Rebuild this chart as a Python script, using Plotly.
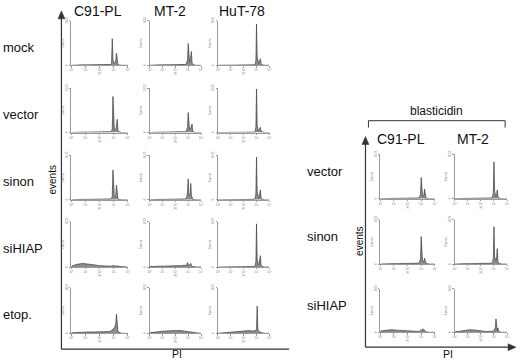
import plotly.graph_objects as go

W, H = 520, 362

# ---------------- data ----------------
# PI channel positions (decades, 10^0 .. 10^4)
BINS = [0.0, 0.4, 0.8, 1.2, 1.6, 2.0, 2.4, 2.7, 2.8, 2.85, 2.9, 2.95,
        3.0, 3.05, 3.1, 3.15, 3.2, 3.25, 3.3, 3.35, 3.45, 3.6, 4.0]
X_TICKS = ["10⁰", "10¹", "10²", "10³", "10⁴"]

LEFT_CELLS = ["C91-PL", "MT-2", "HuT-78"]
LEFT_TREATMENTS = ["mock", "vector", "sinon", "siHIAP", "etop."]
RIGHT_CELLS = ["C91-PL", "MT-2"]
RIGHT_TREATMENTS = ["vector", "sinon", "siHIAP"]

# event counts (% of full scale) per bin
mock_c91 = [0, 1, 1, 1, 1, 1, 1, 1, 2, 4, 60, 12, 6, 5, 6, 10, 27, 8, 2, 1, 0, 0, 0]
mock_mt2 = [0, 1, 1, 1, 1, 1, 1, 2, 2, 3, 6, 12, 49, 14, 8, 10, 18, 31, 6, 2, 1, 0, 0]
mock_hut = [0, 0, 0, 0, 0, 0, 1, 1, 1, 2, 4, 10, 93, 20, 6, 5, 6, 10, 15, 4, 1, 0, 0]
vector_c91 = [0, 1, 1, 1, 1, 1, 1, 1, 2, 3, 8, 81, 15, 6, 6, 8, 14, 30, 6, 2, 1, 0, 0]
vector_mt2 = [0, 1, 1, 1, 1, 1, 1, 1, 2, 3, 6, 12, 45, 18, 8, 8, 10, 14, 19, 4, 1, 0, 0]
vector_hut = [0, 0, 0, 0, 0, 0, 0, 1, 1, 2, 4, 12, 98, 15, 5, 4, 5, 8, 12, 3, 1, 0, 0]
sinon_c91 = [0, 1, 1, 1, 1, 1, 1, 1, 2, 3, 8, 67, 14, 6, 6, 10, 33, 8, 2, 1, 0, 0, 0]
sinon_mt2 = [0, 1, 1, 1, 1, 1, 1, 2, 2, 4, 8, 18, 47, 12, 10, 14, 37, 10, 3, 1, 1, 0, 0]
sinon_hut = [0, 0, 0, 0, 0, 0, 1, 1, 1, 2, 5, 14, 96, 18, 6, 5, 7, 12, 22, 5, 1, 0, 0]
sihiap_c91 = [2, 6, 8, 7, 5, 3, 2, 2, 2, 2, 3, 3, 3, 3, 3, 2, 2, 2, 2, 2, 1, 1, 0]
sihiap_mt2 = [1, 2, 2, 2, 3, 3, 3, 3, 3, 4, 6, 10, 5, 4, 4, 6, 8, 4, 2, 1, 1, 0, 0]
sihiap_hut = [0, 0, 0, 0, 0, 1, 1, 1, 1, 2, 4, 12, 95, 16, 6, 5, 8, 14, 25, 5, 1, 0, 0]
etop_c91 = [1, 2, 2, 3, 3, 3, 3, 4, 5, 6, 7, 8, 10, 12, 16, 22, 42, 14, 6, 3, 1, 0, 0]
etop_mt2 = [1, 3, 4, 5, 6, 6, 6, 5, 5, 5, 5, 5, 5, 5, 4, 4, 4, 4, 3, 3, 2, 1, 0]
etop_hut = [0, 1, 2, 4, 5, 6, 6, 5, 5, 5, 5, 6, 10, 60, 10, 5, 4, 3, 2, 1, 1, 0, 0]

bl_vector_c91 = [0, 1, 1, 1, 1, 1, 1, 1, 2, 3, 6, 10, 48, 12, 6, 6, 9, 22, 5, 2, 1, 0, 0]
bl_vector_mt2 = [0, 1, 1, 1, 1, 1, 1, 1, 2, 3, 6, 14, 83, 16, 6, 5, 8, 20, 6, 2, 1, 0, 0]
bl_sinon_c91 = [0, 1, 1, 1, 1, 1, 1, 1, 2, 3, 6, 12, 62, 14, 6, 5, 7, 13, 4, 2, 1, 0, 0]
bl_sinon_mt2 = [0, 1, 1, 1, 1, 1, 1, 1, 2, 3, 6, 14, 84, 16, 8, 8, 14, 35, 6, 2, 1, 0, 0]
bl_sihiap_c91 = [3, 5, 6, 5, 4, 3, 2, 2, 2, 2, 3, 4, 6, 4, 5, 8, 6, 3, 2, 1, 1, 0, 0]
bl_sihiap_mt2 = [1, 3, 5, 6, 5, 3, 2, 2, 2, 2, 3, 3, 4, 6, 10, 31, 8, 5, 10, 3, 1, 0, 0]

LEFT_DATA = [
    [mock_c91, mock_mt2, mock_hut],
    [vector_c91, vector_mt2, vector_hut],
    [sinon_c91, sinon_mt2, sinon_hut],
    [sihiap_c91, sihiap_mt2, sihiap_hut],
    [etop_c91, etop_mt2, etop_hut],
]
RIGHT_DATA = [
    [bl_vector_c91, bl_vector_mt2],
    [bl_sinon_c91, bl_sinon_mt2],
    [bl_sihiap_c91, bl_sihiap_mt2],
]

# ---------------- layout (pixels) ----------------
LEFT_COL_X = [(70, 127), (149, 201), (218, 270)]
LEFT_ROW_Y = [(17, 62), (85, 130), (153, 198), (220, 266), (287, 333)]
RIGHT_COL_X = [(382, 437), (457, 510)]
RIGHT_ROW_Y = [(152, 197), (218, 263), (288, 332)]


def px(x):
    return x / W


def py(y):
    return 1 - y / H


FONT = "Liberation Sans, Arial, sans-serif"
fig = go.Figure()
n = [0]


def add_panel(vals, xr, yr):
    n[0] += 1
    k = n[0]
    xa = "xaxis" if k == 1 else f"xaxis{k}"
    ya = "yaxis" if k == 1 else f"yaxis{k}"
    xr_ = "x" if k == 1 else f"x{k}"
    yr_ = "y" if k == 1 else f"y{k}"
    fig.add_trace(go.Scatter(
        x=BINS, y=vals, mode="lines", fill="tozeroy",
        fillcolor="#8c8c8c", line=dict(color="#404040", width=0.7),
        xaxis=xr_, yaxis=yr_, hoverinfo="skip"))
    tick_font = dict(size=3, color="#888", family=FONT)
    fig.layout[xa] = dict(
        domain=[px(xr[0]), px(xr[1])], anchor=yr_, range=[0, 4],
        showline=True, linecolor="#9a9a9a", linewidth=0.8,
        ticks="outside", ticklen=1.5, tickwidth=0.6, tickcolor="#9a9a9a",
        tickvals=[0, 1, 2, 3, 4], ticktext=X_TICKS, tickfont=tick_font,
        showgrid=False, zeroline=False, fixedrange=True,
        title=dict(text="PI", font=dict(size=3, color="#888", family=FONT), standoff=0))
    fig.layout[ya] = dict(
        domain=[py(yr[1]), py(yr[0])], anchor=xr_, range=[0, 100],
        showline=True, linecolor="#9a9a9a", linewidth=0.8,
        ticks="outside", ticklen=1.5, tickwidth=0.6, tickcolor="#9a9a9a",
        tickvals=[0, 100], ticktext=["0", "1023"], tickangle=-90, tickfont=tick_font,
        showgrid=False, zeroline=False, fixedrange=True,
        title=dict(text="Events", font=dict(size=3, color="#888", family=FONT), standoff=0))


for r, row in enumerate(LEFT_DATA):
    for c, vals in enumerate(row):
        add_panel(vals, LEFT_COL_X[c], LEFT_ROW_Y[r])
for r, row in enumerate(RIGHT_DATA):
    for c, vals in enumerate(row):
        add_panel(vals, RIGHT_COL_X[c], RIGHT_ROW_Y[r])

# ---------------- frame lines / arrows ----------------
AX = "#333333"
shapes = []


def line(x0, y0, x1, y1, w=1.2):
    shapes.append(dict(type="line", xref="paper", yref="paper",
                       x0=px(x0), y0=py(y0), x1=px(x1), y1=py(y1),
                       line=dict(color=AX, width=w)))


def tri(p):
    d = "M " + " L ".join(f"{px(a)},{py(b)}" for a, b in p) + " Z"
    shapes.append(dict(type="path", xref="paper", yref="paper", path=d,
                       fillcolor=AX, line=dict(color=AX, width=0.5)))


# left block
line(60, 349, 60, 14)
tri([(60, 7), (56.5, 15), (63.5, 15)])
line(60, 349, 290, 349)
# right block
line(367, 347, 367, 141)
tri([(367, 134), (363.5, 142), (370.5, 142)])
line(367, 347, 512, 347)
tri([(519, 347), (511, 343.5), (511, 350.5)])
# bracket
shapes.append(dict(type="path", xref="paper", yref="paper",
                   path=f"M {px(370)},{py(125)} L {px(370)},{py(118)} L {px(508)},{py(118)} L {px(508)},{py(125)}",
                   line=dict(color=AX, width=1)))

# ---------------- text ----------------
ann = []


def text(t, x, y, size, xanchor="center", angle=0, yanchor="middle"):
    ann.append(dict(text=t, x=px(x), y=py(y), xref="paper", yref="paper",
                    showarrow=False, xanchor=xanchor, yanchor=yanchor,
                    textangle=angle, borderpad=0,
                    font=dict(size=size, color="#111", family=FONT)))


for name, x in zip(LEFT_CELLS, [97, 170, 242]):
    text(name, x, 7, 14)
for name, (y0, y1) in zip(LEFT_TREATMENTS, LEFT_ROW_Y):
    text(name, 0, (y0 + y1) / 2 + 4, 13, xanchor="left")
text("events", 51, 178, 10, angle=-90)
text("PI", 177, 361, 10.5, yanchor="bottom")

text("blasticidin", 439, 108, 12)
for name, x in zip(RIGHT_CELLS, [403, 476]):
    text(name, x, 137, 14)
for name, (y0, y1) in zip(RIGHT_TREATMENTS, RIGHT_ROW_Y):
    text(name, 307, (y0 + y1) / 2 - 5, 13, xanchor="left")
text("events", 361, 240, 10, angle=-90)
text("PI", 450, 361, 10.5, yanchor="bottom")

fig.update_layout(width=W, height=H, margin=dict(l=0, r=0, t=0, b=0),
                  paper_bgcolor="white", plot_bgcolor="rgba(0,0,0,0)",
                  showlegend=False, shapes=shapes, annotations=ann)

fig.write_html("out.html", config={"displayModeBar": False},
               post_script="document.body.style.margin='0px';document.body.style.overflow='hidden';")
